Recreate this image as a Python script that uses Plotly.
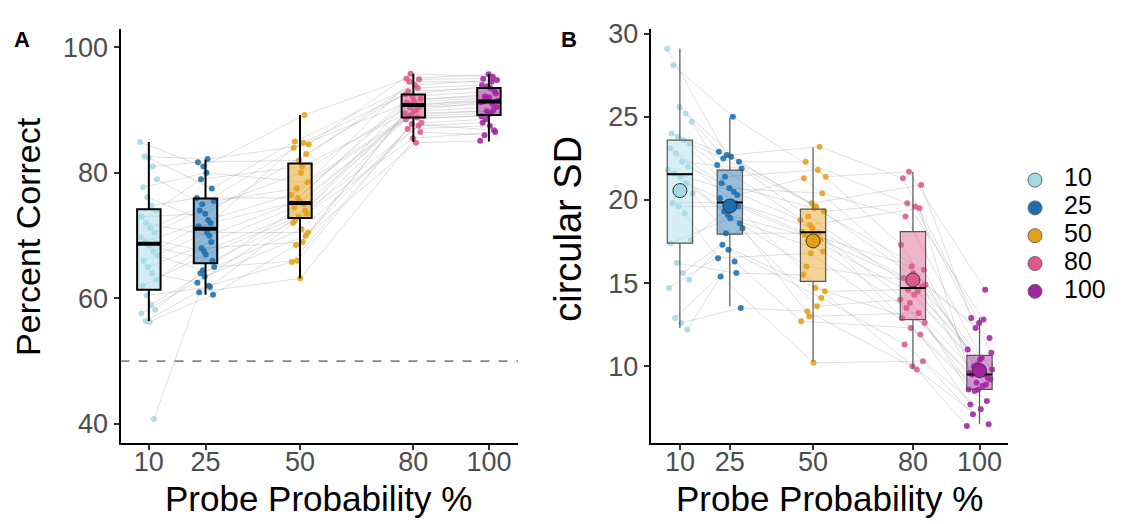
import numpy as np
import plotly.graph_objects as go

# ---------------- data ----------------
probe = [10, 25, 50, 80, 100]
cond_labels = ["10", "25", "50", "80", "100"]
colors = ["#A3DAE6", "#1B6FB0", "#E5A016", "#DB5A8B", "#A0249F"]

# Panel A: Percent Correct, values per condition (sorted high -> low)
pc_10 = [84.9, 82.6, 82.4, 81.0, 79.0, 77.7, 76.1, 74.8, 74.0, 73.0, 72.0, 71.2, 70.5, 69.8, 69.0,
         68.4, 67.5, 66.8, 66.0, 65.0, 64.0, 63.0, 62.0, 60.5, 59.0, 58.2, 57.6, 56.4, 56.3, 40.8]
pc_25 = [82.2, 81.7, 81.0, 80.0, 79.0, 77.5, 76.0, 75.5, 75.0, 74.0, 73.5, 72.5, 72.0, 71.5, 70.5,
         70.0, 69.0, 68.0, 67.5, 67.0, 66.0, 65.0, 64.5, 64.0, 63.5, 62.5, 62.0, 61.8, 61.0, 60.6]
pc_50 = [89.2, 85.0, 84.8, 84.5, 84.0, 83.0, 82.0, 81.0, 80.0, 78.5, 77.5, 76.5, 76.0, 75.5, 75.2,
         75.0, 74.5, 74.0, 73.5, 73.0, 72.5, 72.0, 71.0, 70.5, 70.0, 69.0, 68.5, 66.0, 65.8, 63.2]
pc_80 = [95.8, 95.0, 94.9, 94.5, 94.0, 93.5, 93.0, 92.5, 92.2, 91.8, 91.5, 91.2, 91.0, 90.8, 90.6,
         90.4, 90.0, 89.8, 89.5, 89.2, 89.0, 88.8, 88.5, 88.0, 87.8, 87.5, 87.0, 86.5, 85.5, 84.8]
pc_100 = [95.7, 95.3, 95.0, 94.8, 94.5, 94.0, 93.8, 93.5, 93.0, 92.6, 92.2, 92.0, 91.8, 91.5, 91.4,
          91.2, 91.0, 90.5, 90.0, 89.8, 89.5, 89.2, 89.0, 88.5, 88.0, 87.5, 86.8, 86.5, 86.0, 85.1]

# Panel B: circular SD, values per condition (sorted high -> low)
sd_10 = [29.1, 28.1, 25.6, 25.2, 24.7, 24.0, 23.8, 23.6, 23.4, 23.1, 22.8, 22.3, 22.0, 21.8, 21.6,
         21.4, 21.0, 20.4, 19.8, 19.6, 19.2, 17.6, 17.4, 16.2, 15.6, 15.2, 14.7, 12.9, 12.6, 12.2]
sd_25 = [25.0, 22.9, 22.7, 22.6, 22.5, 22.3, 22.1, 21.9, 21.4, 21.0, 20.7, 20.5, 20.3, 20.1, 19.9,
         19.8, 19.6, 19.3, 19.1, 18.9, 18.6, 18.3, 18.0, 17.3, 17.0, 16.5, 16.3, 15.6, 15.4, 13.5]
sd_50 = [23.2, 22.3, 21.8, 21.4, 21.3, 20.4, 19.8, 19.6, 19.5, 19.3, 19.0, 18.8, 18.5, 18.3, 18.1,
         18.0, 17.9, 17.6, 16.9, 16.8, 16.0, 15.5, 14.7, 14.5, 14.1, 13.6, 13.3, 13.0, 12.7, 10.2]
sd_80 = [21.7, 21.3, 20.9, 19.8, 19.6, 19.5, 19.0, 17.3, 16.0, 15.8, 15.6, 15.3, 15.1, 14.9, 14.8,
         14.6, 14.5, 14.3, 14.0, 13.8, 13.5, 13.2, 12.9, 12.6, 12.3, 11.9, 11.3, 10.3, 10.0, 9.8]
sd_100 = [14.6, 12.9, 12.8, 12.6, 12.3, 11.7, 11.0, 10.8, 10.5, 10.4, 10.1, 10.0, 9.8, 9.6, 9.5,
          9.5, 9.3, 9.2, 9.0, 8.9, 8.8, 8.6, 8.6, 8.5, 7.9, 7.7, 7.4, 7.1, 6.5, 6.4]

# subject pairing: rank index (within each condition list) of subject i
rank_10 = list(range(30))
rank_25 = [2, 0, 5, 1, 8, 3, 12, 6, 4, 10, 15, 7, 9, 18, 11, 20, 13, 22, 14, 16, 25, 17, 19, 27, 21, 23, 24, 26, 29, 28]
rank_50 = [0, 3, 1, 6, 2, 9, 4, 12, 7, 5, 14, 10, 8, 17, 11, 20, 13, 15, 23, 16, 19, 25, 18, 21, 27, 22, 24, 28, 26, 29]
rank_80 = [1, 0, 4, 2, 7, 3, 10, 5, 13, 6, 8, 16, 9, 11, 19, 12, 14, 22, 15, 17, 25, 18, 20, 28, 21, 23, 26, 24, 29, 27]
rank_100A = [0, 1, 3, 2, 6, 4, 9, 5, 12, 7, 8, 15, 10, 11, 18, 13, 14, 21, 16, 17, 24, 19, 20, 27, 22, 23, 25, 26, 29, 28]
rank_100B = [3, 0, 7, 1, 10, 2, 5, 13, 4, 8, 16, 6, 11, 9, 19, 12, 14, 22, 15, 17, 25, 18, 20, 28, 21, 23, 26, 24, 29, 27]

# box statistics
A_q1 = [61.4, 65.6, 72.8, 88.8, 89.2]
A_med = [68.7, 71.1, 75.2, 90.8, 91.35]
A_q3 = [74.2, 75.9, 81.5, 92.5, 93.5]
A_lo = [56.4, 60.6, 63.2, 84.9, 85.0]
A_hi = [84.9, 82.1, 89.2, 95.8, 95.7]

B_q1 = [17.4, 17.95, 15.1, 12.8, 8.6]
B_med = [21.55, 19.85, 18.05, 14.7, 9.5]
B_q3 = [23.6, 21.8, 19.45, 18.1, 10.65]
B_lo = [12.3, 13.6, 10.3, 9.85, 6.5]
B_hi = [29.1, 24.95, 23.15, 21.7, 12.95]

# ---------------- helpers ----------------
def subject_matrix(lists, ranks):
    return np.array([np.array(v)[np.array(r)] for v, r in zip(lists, ranks)])

def hex_rgba(h, a):
    h = h.lstrip("#")
    return "rgba(%d,%d,%d,%.3f)" % (int(h[0:2], 16), int(h[2:4], 16), int(h[4:6], 16), a)

YA = subject_matrix([pc_10, pc_25, pc_50, pc_80, pc_100], [rank_10, rank_25, rank_50, rank_80, rank_100A])
YB = subject_matrix([sd_10, sd_25, sd_50, sd_80, sd_100], [rank_10, rank_25, rank_50, rank_80, rank_100B])

n_sub = YA.shape[1]
jit = ((np.arange(n_sub)[None, :] * 7 + np.arange(5)[:, None] * 11) % n_sub) / (n_sub - 1) - 0.5
P = np.array(probe, dtype=float)[:, None]
XA = P + jit * 2 * 2.3
XB = P + jit * 2 * 3.8

FONT = "Liberation Sans, Arial, sans-serif"
fig = go.Figure()

def add_lines(X, Y, xa, ya):
    xs, ys = [], []
    for s in range(X.shape[1]):
        xs += list(X[:, s]) + [None]
        ys += list(Y[:, s]) + [None]
    fig.add_trace(go.Scatter(x=xs, y=ys, mode="lines", xaxis=xa, yaxis=ya,
                             line=dict(color="rgba(150,150,150,0.30)", width=1),
                             hoverinfo="skip", showlegend=False))

def add_points(X, Y, xa, ya):
    for c in range(5):
        fig.add_trace(go.Scatter(x=X[c], y=Y[c], mode="markers", xaxis=xa, yaxis=ya,
                                 marker=dict(color=colors[c], size=6, opacity=0.88),
                                 showlegend=False))

add_lines(XA, YA, "x", "y")
add_points(XA, YA, "x", "y")
add_lines(XB, YB, "x2", "y2")
add_points(XB, YB, "x2", "y2")

wA, wB = 6.2, 7.6
for c in range(5):
    fig.add_trace(go.Box(x=[probe[c]], q1=[A_q1[c]], median=[A_med[c]], q3=[A_q3[c]],
                         lowerfence=[A_lo[c]], upperfence=[A_hi[c]], width=wA, whiskerwidth=0,
                         fillcolor=hex_rgba(colors[c], 0.5), line=dict(color="black", width=2),
                         boxpoints=False, xaxis="x3", yaxis="y3", showlegend=False, hoverinfo="skip"))
    fig.add_trace(go.Scatter(x=[probe[c] - wA / 2, probe[c] + wA / 2], y=[A_med[c], A_med[c]],
                             mode="lines", line=dict(color="black", width=4), xaxis="x3", yaxis="y3",
                             showlegend=False, hoverinfo="skip"))
    fig.add_trace(go.Box(x=[probe[c]], q1=[B_q1[c]], median=[B_med[c]], q3=[B_q3[c]],
                         lowerfence=[B_lo[c]], upperfence=[B_hi[c]], width=wB, whiskerwidth=0,
                         fillcolor=hex_rgba(colors[c], 0.45), line=dict(color="#555555", width=1.2),
                         boxpoints=False, xaxis="x4", yaxis="y4", showlegend=False, hoverinfo="skip"))
    fig.add_trace(go.Scatter(x=[probe[c] - wB / 2, probe[c] + wB / 2], y=[B_med[c], B_med[c]],
                             mode="lines", line=dict(color="black", width=2), xaxis="x4", yaxis="y4",
                             showlegend=False, hoverinfo="skip"))

meansB = YB.mean(axis=1)
fig.add_trace(go.Scatter(x=probe, y=meansB, mode="markers", xaxis="x4", yaxis="y4",
                         marker=dict(color=colors, size=14, line=dict(color="#333333", width=1)),
                         showlegend=False))

# ---------------- layout ----------------
OFF = 8                      # page margin in front of the figure
W, H = 1128 - 2 * OFF, 524 - OFF

def to_fx(xp):               # page pixel -> figure pixel
    return xp - OFF

def to_fy(yp):
    return yp - OFF

def px(xp):
    return to_fx(xp) / W

def py(yp):
    return 1 - to_fy(yp) / H

# manual legend (categories), in figure-pixel units on a hidden full-figure axis
leg_y = [to_fy(174 + 28.3 * k) for k in range(5)]
fig.add_trace(go.Scatter(x=[to_fx(1035)] * 5, y=leg_y, mode="markers", xaxis="x5", yaxis="y5",
                         marker=dict(color=colors, size=14, line=dict(color="#666666", width=1)),
                         showlegend=False, hoverinfo="skip"))
fig.add_trace(go.Scatter(x=[to_fx(1064)] * 5, y=leg_y, mode="text", text=cond_labels, textposition="middle right",
                         textfont=dict(family=FONT, size=25, color="black"), xaxis="x5", yaxis="y5",
                         showlegend=False, hoverinfo="skip"))

yd = [py(442), py(20)]
xdA = [px(120.5), px(518)]
xdB = [px(650.6), px(1008)]
rxA, ryA = [2.5, 107.7], [36.9, 102.95]
rxB, ryB = [1.2, 108.56], [5.35, 30.3]

tickfont = dict(family=FONT, size=27, color="#4D4D4D")
common = dict(showgrid=False, zeroline=False, showline=True, linecolor="black", linewidth=2,
              ticks="outside", ticklen=5, tickwidth=1.5, tickcolor="#333333", tickfont=tickfont,
              ticklabeloverflow="allow", fixedrange=True)

fig.update_layout(
    width=W, height=H, margin=dict(l=0, r=0, t=0, b=0),
    paper_bgcolor="white", plot_bgcolor="rgba(0,0,0,0)", showlegend=False,
    font=dict(family=FONT),
    xaxis=dict(domain=xdA, range=rxA, anchor="y", tickvals=probe, ticktext=cond_labels,
               ticklabelstandoff=-12, **common),
    yaxis=dict(domain=yd, range=ryA, anchor="x", tickvals=[40, 60, 80, 100], **common),
    xaxis2=dict(domain=xdB, range=rxB, anchor="y2", tickvals=probe, ticktext=cond_labels,
                ticklabelstandoff=-12, **common),
    yaxis2=dict(domain=yd, range=ryB, anchor="x2", tickvals=[10, 15, 20, 25, 30], **common),
    xaxis3=dict(overlaying="x", range=rxA, visible=False, fixedrange=True),
    yaxis3=dict(overlaying="y", range=ryA, visible=False, fixedrange=True),
    xaxis4=dict(overlaying="x2", range=rxB, visible=False, fixedrange=True),
    yaxis4=dict(overlaying="y2", range=ryB, visible=False, fixedrange=True),
    xaxis5=dict(domain=[0, 1], range=[0, W], visible=False, fixedrange=True, anchor="y5"),
    yaxis5=dict(domain=[0, 1], range=[H, 0], visible=False, fixedrange=True, anchor="x5"),
)

fig.add_shape(type="line", xref="x domain", yref="y", x0=0, x1=1, y0=50, y1=50,
              line=dict(color="#555555", width=1.2, dash="dash"), layer="below")

ann = [
    dict(text="<b>A</b>", x=px(21.5), y=py(31), font=dict(size=22, color="black")),
    dict(text="<b>B</b>", x=px(569), y=py(31), font=dict(size=22, color="black")),
    dict(text="Percent Correct", x=px(27.8), y=py(231), textangle=-90, font=dict(size=34, color="black")),
    dict(text="circular SD", x=px(568.5), y=py(224), textangle=-90, font=dict(size=38, color="black")),
    dict(text="Probe Probability %", x=px(318.5), y=py(498), font=dict(size=35, color="black")),
    dict(text="Probe Probability %", x=px(829.5), y=py(498), font=dict(size=35, color="black")),
]
for a in ann:
    fig.add_annotation(xref="paper", yref="paper", xanchor="center", yanchor="middle", showarrow=False,
                       **{k: v for k, v in a.items() if k != "font"},
                       font=dict(family=FONT, **a["font"]))

fig.write_html("out.html")
